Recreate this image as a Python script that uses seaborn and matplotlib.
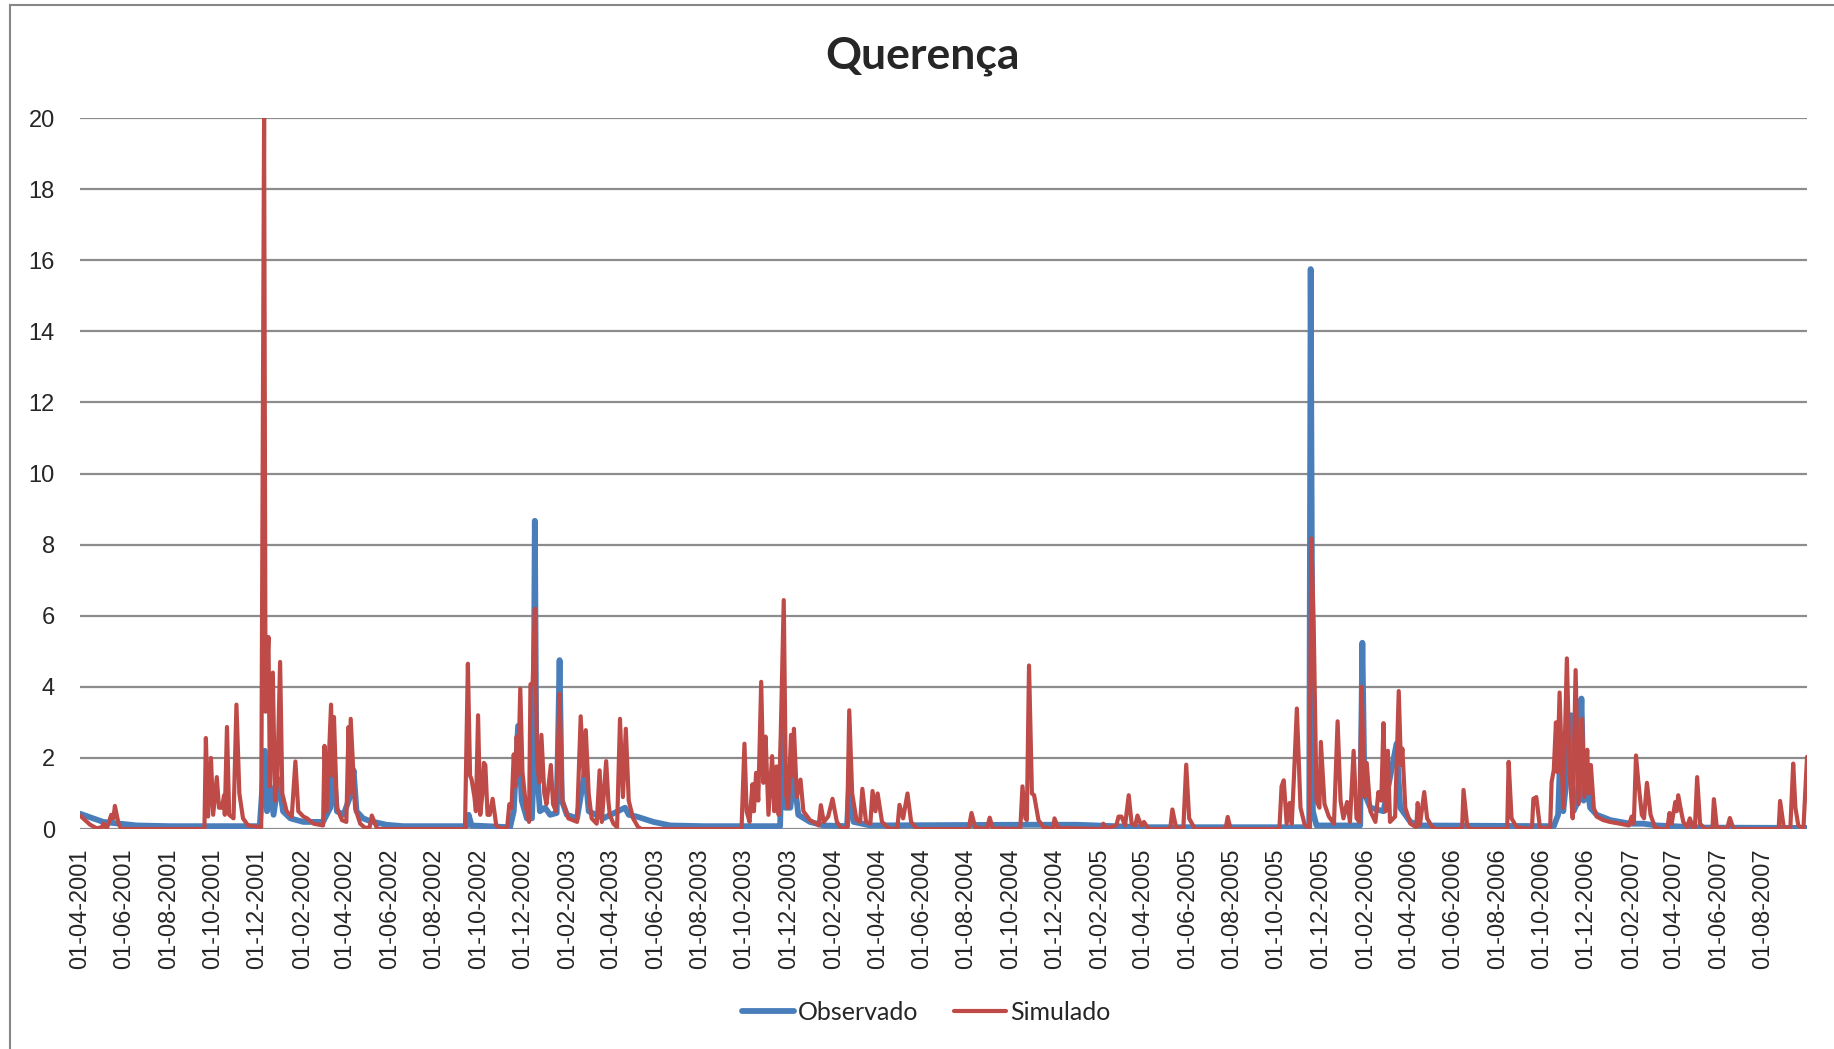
import pandas as pd
import matplotlib
matplotlib.use("Agg")
import matplotlib.pyplot as plt
import matplotlib.dates as mdates
from matplotlib.patches import Rectangle
import seaborn as sns

# daily flow, Querença — values read at break points (day offset from start date)
START = "2001-04-01"
END_DAY = 2373

obs_day = [0, 32, 78, 124, 247, 254, 257, 261, 266, 273, 279, 289, 307, 334, 344, 348,
           353, 362, 371, 376, 380, 389, 399, 421, 444, 531, 534, 538, 591, 596, 602, 607,
           614, 621, 623, 625, 627, 632, 639, 646, 655, 659, 662, 669, 683, 694, 699, 719,
           749, 754, 765, 788, 811, 857, 962, 965, 969, 976, 981, 987, 1003, 1022, 1054,
           1057, 1063, 1086, 1292, 1370, 1461, 1689, 1691, 1694, 1699, 1759, 1762, 1765,
           1773, 1791, 1809, 1814, 1828, 1841, 2025, 2031, 2034, 2038, 2043, 2049, 2052,
           2059, 2063, 2066, 2071, 2075, 2084, 2103, 2130, 2148, 2167, 2231, 2373]
obs_q = [0.43, 0.2, 0.1, 0.08, 0.08, 2.2, 0.5, 1.2, 0.4, 1.4, 0.5, 0.3, 0.2, 0.2, 0.6, 1.8,
         0.5, 0.4, 0.9, 1.65, 0.5, 0.3, 0.22, 0.12, 0.08, 0.08, 0.4, 0.1, 0.05, 0.5, 2.9, 0.8,
         0.3, 0.3, 1.5, 8.67, 1.9, 0.5, 0.6, 0.4, 0.45, 4.75, 0.8, 0.4, 0.3, 1.65, 0.5, 0.3,
         0.6, 0.4, 0.35, 0.2, 0.1, 0.08, 0.08, 3.0, 0.6, 0.6, 1.5, 0.4, 0.2, 0.1, 0.08,
         1.3, 0.2, 0.1, 0.12, 0.12, 0.05, 0.05, 15.75, 0.5, 0.1, 0.1, 5.24, 1.0,
         0.6, 0.5, 2.4, 0.6, 0.2, 0.1, 0.08, 0.4, 2.2, 0.5, 1.5, 3.2, 0.5,
         0.8, 3.67, 0.8, 1.2, 0.6, 0.4, 0.25, 0.15, 0.15, 0.1, 0.04, 0.03]

sim_day = [0, 14, 23, 30, 32, 37, 43, 46, 48, 53, 57, 171, 173, 176, 180, 183, 188, 191,
           195, 198, 199, 202, 205, 211, 215, 219, 224, 231, 249, 253, 255, 259, 261, 265,
           268, 271, 275, 278, 284, 291, 296, 300, 307, 312, 321, 334, 336, 339, 345, 347,
           349, 353, 360, 366, 369, 371, 372, 378, 385, 392, 398, 401, 408, 411,
           529, 533, 536, 538, 542, 544, 547, 550, 553, 555, 557, 560, 563, 567, 572, 579,
           587, 590, 593, 596, 598, 600, 602, 605, 608, 613, 617, 619, 622, 625, 628, 631,
           634, 638, 641, 647, 650, 654, 659, 663, 671, 683, 688, 692, 695, 699, 703, 710,
           714, 717, 723, 726, 728, 733, 738, 742, 746, 750, 754, 760, 767, 772,
           909, 913, 916, 920, 924, 926, 929, 932, 936, 939, 942, 946, 951, 954, 957, 960,
           963, 967, 970, 973, 977, 979, 981, 985, 990, 994, 1003, 1012, 1015, 1018, 1022,
           1028, 1034, 1040, 1047, 1054, 1057, 1061, 1067, 1072, 1075, 1080, 1086, 1089,
           1093, 1096, 1102, 1111, 1123, 1126, 1131, 1137, 1142, 1150,
           1221, 1225, 1230, 1246, 1250, 1254, 1292, 1295, 1299, 1301, 1304, 1308, 1311,
           1317, 1324, 1337, 1339, 1344, 1404, 1406, 1411, 1424, 1427, 1431, 1436, 1441,
           1445, 1450, 1453, 1458, 1462, 1468, 1498, 1501, 1506, 1516, 1520, 1524, 1532,
           1574, 1577, 1581,
           1648, 1651, 1654, 1658, 1662, 1665, 1668, 1672, 1677, 1683, 1689, 1692, 1695,
           1699, 1703, 1705, 1710, 1716, 1723, 1728, 1732, 1736, 1741, 1745, 1750, 1754,
           1758, 1761, 1765, 1768, 1773, 1780, 1784, 1788, 1791, 1794, 1797, 1800, 1807,
           1812, 1815, 1817, 1821, 1828, 1836, 1838, 1841, 1847, 1851, 1858, 1864, 1899,
           1901, 1906, 1910, 1961, 1963, 1967, 1974, 1995, 1997, 2001, 2006, 2020, 2022,
           2025, 2028, 2030, 2033, 2038, 2043, 2047, 2051, 2055, 2059, 2064, 2067, 2071,
           2073, 2076, 2080, 2084, 2093, 2102, 2116, 2128, 2132, 2135, 2138, 2141, 2146,
           2149, 2153, 2158, 2164, 2171, 2181, 2184, 2187, 2192, 2194, 2196, 2200, 2203,
           2208, 2212, 2216, 2219, 2222, 2226, 2233, 2243, 2245, 2249, 2263, 2267, 2272,
           2334, 2336, 2341, 2350, 2354, 2357, 2361, 2368, 2373]
sim_q = [0.38, 0.12, 0.02, 0.05, 0.15, 0.02, 0.4, 0.3, 0.65, 0.15, 0.0, 0.0, 2.56, 0.35, 2.0, 0.4, 1.46, 0.6,
         0.6, 0.95, 0.4, 2.87, 0.4, 0.3, 3.5, 1.0, 0.3, 0.1, 0.05, 20.0, 3.3, 5.4, 1.2, 4.4,
         0.8, 1.3, 4.7, 1.0, 0.5, 0.35, 1.9, 0.5, 0.35, 0.3, 0.15, 0.1, 2.34, 0.5, 3.5, 1.5,
         3.15, 0.6, 0.25, 0.2, 2.87, 1.0, 3.1, 0.6, 0.15, 0.03, 0.05, 0.38, 0.02, 0.0,
         0.0, 4.65, 1.5, 1.4, 0.9, 0.5, 3.2, 0.4, 1.0, 1.86, 1.8, 0.4, 0.4, 0.85, 0.1, 0.0,
         0.05, 0.7, 0.6, 2.1, 1.2, 2.6, 1.5, 3.95, 1.6, 0.6, 0.2, 4.07, 4.1, 6.2, 2.0, 1.3,
         2.65, 1.0, 0.7, 1.8, 0.7, 0.5, 3.8, 0.8, 0.3, 0.2, 3.17, 1.5, 2.78, 1.0, 0.3, 0.15,
         1.65, 0.2, 1.91, 0.8, 0.4, 0.15, 0.05, 3.1, 0.9, 2.82, 0.8, 0.3, 0.05, 0.0,
         0.0, 2.4, 0.5, 0.2, 1.26, 0.5, 1.58, 0.8, 4.14, 1.3, 2.6, 0.4, 2.05, 0.5, 1.76, 0.4,
         2.78, 6.44, 1.0, 0.6, 2.65, 1.5, 2.82, 0.9, 1.39, 0.5, 0.25, 0.15, 0.1, 0.67, 0.2,
         0.35, 0.85, 0.2, 0.0, 0.05, 3.34, 1.0, 0.25, 0.2, 1.13, 0.2, 0.15, 1.07,
         0.5, 1.0, 0.2, 0.02, 0.0, 0.68, 0.3, 1.0, 0.2, 0.0,
         0.0, 0.45, 0.05, 0.0, 0.32, 0.02, 0.0, 1.2, 0.3, 0.25, 4.6, 1.0, 0.95,
         0.25, 0.05, 0.0, 0.3, 0.03, 0.0, 0.15, 0.02, 0.1, 0.35, 0.35, 0.1, 0.95,
         0.15, 0.1, 0.38, 0.1, 0.2, 0.0, 0.0, 0.55, 0.05, 0.0, 1.81, 0.3, 0.0,
         0.0, 0.34, 0.0,
         0.0, 1.2, 1.37, 0.15, 0.73, 0.15, 1.46, 3.39, 0.6, 0.1, 0.05, 8.17, 5.9,
         0.8, 0.6, 2.45, 0.7, 0.35, 0.15, 3.03, 0.8, 0.3, 0.76, 0.2, 2.2, 0.3,
         0.2, 4.0, 0.9, 1.86, 0.5, 0.2, 1.04, 0.8, 2.98, 0.5, 2.2, 0.2, 0.35,
         3.88, 1.8, 2.26, 0.6, 0.15, 0.05, 0.73, 0.1, 1.04, 0.3, 0.05, 0.0, 0.0,
         1.1, 0.1, 0.0, 0.0, 1.89, 0.3, 0.05, 0.0, 0.85, 0.9, 0.05, 0.0, 1.32,
         1.65, 3.0, 1.6, 3.84, 0.6, 4.8, 1.5, 0.3, 4.47, 0.7, 3.1, 0.9, 2.23,
         1.0, 1.8, 0.6, 0.35, 0.25, 0.2, 0.15, 0.1, 0.35, 0.15, 2.07, 1.37, 0.4,
         0.3, 1.3, 0.4, 0.05, 0.0, 0.0, 0.45, 0.15, 0.76, 0.5, 0.95, 0.5, 0.2,
         0.05, 0.3, 0.05, 0.05, 1.46, 0.15, 0.0, 0.0, 0.84, 0.05, 0.0, 0.31, 0.0,
         0.0, 0.79, 0.05, 0.0, 1.84, 0.6, 0.1, 0.0, 2.03]

BLUE = "#4A7EBB"
RED = "#BE4B48"
GRID = "#8C8C8C"


def to_frame(days, q):
    start = pd.Timestamp(START)
    return pd.DataFrame({"date": start + pd.to_timedelta(days, unit="D"), "q": q})


obs = to_frame(obs_day, obs_q)
sim = to_frame(sim_day, sim_q)

sns.set_theme(style="white")
plt.rcParams["font.family"] = ["Liberation Sans", "DejaVu Sans"]

fig = plt.figure(figsize=(18.34, 10.49), dpi=100)
ax = fig.add_axes([0.0436, 0.2097, 0.9417, 0.6778])

sns.lineplot(data=obs, x="date", y="q", ax=ax, color=BLUE, lw=4.2, label="Observado",
             estimator=None, sort=False, solid_joinstyle="round", solid_capstyle="round")
sns.lineplot(data=sim, x="date", y="q", ax=ax, color=RED, lw=3.0, label="Simulado",
             estimator=None, sort=False, solid_joinstyle="round", solid_capstyle="round")

start = pd.Timestamp(START)
ax.set_xlim(start, start + pd.Timedelta(days=END_DAY))
ax.set_ylim(0, 20)
ax.set_yticks(range(0, 21, 2))
ax.xaxis.set_major_locator(mdates.MonthLocator(bymonth=[2, 4, 6, 8, 10, 12], bymonthday=1))
ax.xaxis.set_major_formatter(mdates.DateFormatter("%d-%m-%Y"))
ax.yaxis.grid(True, color=GRID, lw=1.6)
ax.xaxis.grid(False)
ax.set_axisbelow(True)
for s in ax.spines.values():
    s.set_visible(False)
ax.tick_params(axis="x", labelrotation=90, labelsize=17, length=0, pad=14)
ax.tick_params(axis="y", labelsize=17, length=0, pad=18)
ax.set_xlabel("")
ax.set_ylabel("")

handles, labels = ax.get_legend_handles_labels()
ax.get_legend().remove()
fig.legend(handles, labels, loc="center", bbox_to_anchor=(0.505, 1 - 1012 / 1049), ncol=2,
           frameon=False, prop={"family": ["Lato", "DejaVu Sans"], "size": 18},
           handlelength=2.1, handletextpad=0.15, columnspacing=1.4)

fig.text(0.503, 1 - 56 / 1049, "Querença", ha="center", va="center", fontsize=32,
         fontweight="bold", family=["Lato", "DejaVu Sans"])

fig.patches.append(Rectangle((10 / 1834, -0.1), 2, 0.1 + 1 - 5 / 1049, transform=fig.transFigure,
                             fill=False, edgecolor="#878787", lw=1.5))

fig.savefig("out.png", dpi=100)
